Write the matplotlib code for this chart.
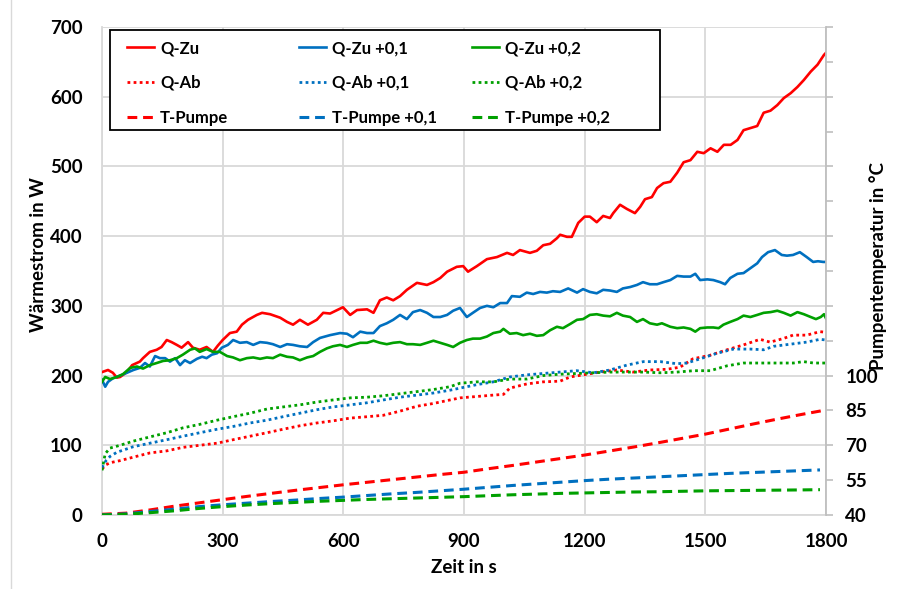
import matplotlib
matplotlib.use("Agg")
import matplotlib.pyplot as plt
from matplotlib.patches import Rectangle
from matplotlib.lines import Line2D

plt.rcParams['font.family'] = ['Lato', 'DejaVu Sans']
plt.rcParams['font.weight'] = 'bold'

# ---------------- data ----------------
# Q-Zu (red, solid) in W
t_qzu = [0, 15, 27, 37, 45, 62, 75, 94, 102, 119, 136, 148, 161, 173, 186, 198, 214, 226, 243, 260,
         276, 288, 300, 318, 335, 348, 363, 385, 398, 418, 443, 460, 475, 492, 512, 534, 550, 567, 599,
         617, 634, 659, 675, 691, 708, 724, 741, 758, 783, 808, 824, 841, 858, 882, 898, 910, 932, 957,
         982, 1007, 1022, 1039, 1064, 1081, 1097, 1114, 1131, 1139, 1156, 1168, 1176, 1184, 1200, 1213,
         1230, 1246, 1263, 1271, 1288, 1305, 1325, 1338, 1350, 1367, 1380, 1396, 1413, 1430, 1446, 1463,
         1480, 1496, 1513, 1530, 1546, 1563, 1580, 1595, 1612, 1629, 1645, 1662, 1679, 1695, 1712, 1729,
         1745, 1762, 1779, 1795, 1800]
q_zu = [205, 208, 204, 197, 198, 205, 215, 220, 225, 234, 237, 241, 251, 248, 244, 240, 248, 240, 237, 241,
        234, 243, 251, 261, 263, 273, 280, 287, 290, 288, 283, 277, 273, 280, 273, 280, 290, 289, 298,
        287, 294, 295, 290, 308, 312, 308, 314, 323, 333, 330, 334, 340, 349, 356, 357, 349, 357, 367,
        370, 376, 373, 380, 376, 379, 387, 389, 397, 402, 399, 399, 409, 419, 428, 428,
        420, 429, 426, 433, 445, 439, 433, 442, 453, 456, 469, 476, 478, 491, 506, 509,
        521, 519, 526, 521, 531, 531, 538, 552, 555, 558, 577, 580, 588, 598, 605, 614,
        624, 636, 646, 660, 663]

# Q-Zu +0,1 (blue, solid)
t_qzu1 = [0, 8, 15, 27, 45, 62, 78, 94, 107, 119, 132, 144, 157, 169, 182, 194, 206, 219, 236, 249, 260,
          273, 286, 298, 313, 326, 343, 360, 376, 393, 410, 425, 443, 460, 475, 492, 510, 525, 542, 567,
          592, 609, 624, 642, 659, 675, 691, 708, 724, 741, 758, 773, 791, 808, 824, 841, 858, 873, 890,
          907, 922, 940, 957, 973, 990, 1007, 1019, 1039, 1056, 1072, 1089, 1106, 1121, 1139, 1159, 1181,
          1196, 1213, 1230, 1246, 1263, 1280, 1295, 1313, 1330, 1345, 1362, 1380, 1396, 1413, 1430, 1446,
          1463, 1475, 1487, 1505, 1520, 1537, 1549, 1562, 1580, 1595, 1612, 1629, 1641, 1656, 1673, 1690,
          1703, 1718, 1735, 1752, 1768, 1780, 1793, 1800]
q_zu1 = [194, 184, 191, 196, 200, 204, 208, 211, 218, 213, 228, 225, 225, 220, 225, 215, 222, 218, 224, 227, 225,
         230, 232, 240, 244, 251, 247, 248, 244, 248, 247, 245, 241, 245, 244, 242, 241, 248, 254, 258,
         261, 260, 255, 263, 261, 261, 271, 275, 280, 287, 281, 291, 294, 290, 284, 284, 287, 293, 297,
         284, 290, 297, 300, 298, 304, 304, 314, 313, 319, 317, 320, 319, 321, 320, 325, 319,
         324, 320, 318, 323, 322, 320, 325, 327, 330, 334, 331, 331, 334, 337, 343, 342,
         342, 346, 337, 338, 337, 334, 331, 340, 346, 347, 354, 361, 370, 377, 380, 373,
         372, 373, 377, 370, 363, 364, 363, 363]

# Q-Zu +0,2 (green, solid)
t_qzu2 = [0, 8, 20, 37, 52, 70, 87, 102, 119, 136, 152, 169, 186, 201, 219, 231, 243, 260, 276, 293, 311,
          326, 343, 360, 376, 393, 410, 425, 443, 460, 475, 492, 510, 525, 542, 559, 574, 592, 609, 624,
          642, 659, 675, 691, 708, 724, 741, 758, 773, 791, 808, 824, 841, 858, 873, 890, 907, 922, 940,
          957, 973, 990, 998, 1014, 1031, 1047, 1064, 1081, 1097, 1114, 1131, 1146, 1164, 1181, 1196, 1213,
          1230, 1246, 1263, 1280, 1295, 1313, 1330, 1345, 1362, 1380, 1392, 1413, 1430, 1446, 1463, 1475,
          1487, 1505, 1520, 1533, 1545, 1562, 1580, 1595, 1612, 1629, 1645, 1662, 1679, 1695, 1712, 1729,
          1745, 1762, 1775, 1787, 1795, 1800]
q_zu2 = [191, 198, 195, 198, 202, 211, 213, 210, 215, 218, 221, 222, 225, 230, 237, 239, 234, 238, 234, 234, 228,
         226, 222, 225, 226, 224, 226, 225, 230, 227, 226, 222, 226, 228, 234, 239, 242, 244, 241, 244,
         247, 247, 250, 247, 245, 247, 248, 245, 245, 244, 247, 250, 247, 244, 241, 247, 251, 253, 253,
         256, 261, 263, 267, 260, 261, 258, 260, 257, 258, 265, 270, 268, 274, 280, 281, 287,
         288, 286, 285, 290, 286, 284, 277, 281, 275, 273, 275, 270, 268, 269, 267, 263,
         268, 269, 269, 268, 273, 277, 281, 286, 284, 287, 290, 291, 293, 290, 286, 291,
         288, 284, 281, 284, 288, 282]

# Q-Ab (dotted) in W
t_qab = [0, 10, 20, 45, 78, 119, 161, 201, 243, 286, 326, 368, 410, 450, 492, 534, 574, 617, 659, 699,
         741, 783, 824, 865, 890, 932, 973, 998, 1014, 1056, 1097, 1139, 1164, 1196, 1238, 1280, 1320,
         1362, 1404, 1437, 1469, 1511, 1554, 1595, 1636, 1661, 1693, 1718, 1752, 1785, 1800]
q_ab = [66, 72, 75, 78, 83, 89, 92, 97, 100, 103, 108, 113, 118, 123, 128, 132, 135, 139, 141, 143,
        149, 156, 160, 165, 168, 170, 172, 173, 182, 188, 191, 192, 198, 201, 205, 208, 205,
        208, 209, 212, 224, 229, 237, 244, 252, 248, 253, 258, 258, 263, 262]

t_qab1 = [0, 10, 20, 37, 78, 119, 161, 201, 243, 286, 326, 368, 410, 450, 492, 534, 574, 617, 659, 699,
          741, 783, 824, 865, 890, 932, 973, 1014, 1056, 1097, 1139, 1180, 1222, 1263, 1305, 1346, 1388,
          1429, 1454, 1487, 1529, 1570, 1612, 1645, 1670, 1711, 1752, 1785, 1800]
q_ab1 = [68, 78, 84, 90, 98, 103, 108, 113, 118, 123, 127, 132, 136, 141, 146, 151, 155, 158, 161, 165,
         169, 172, 175, 179, 182, 187, 191, 198, 201, 203, 205, 207, 204, 208, 215, 220, 220,
         217, 218, 224, 232, 238, 238, 237, 242, 245, 248, 252, 251]

t_qab2 = [0, 8, 20, 45, 78, 119, 161, 201, 243, 286, 326, 368, 410, 450, 492, 534, 574, 617, 659, 699,
          741, 783, 824, 865, 890, 932, 973, 1014, 1056, 1097, 1139, 1180, 1222, 1263, 1305, 1346, 1388,
          1429, 1471, 1512, 1554, 1595, 1636, 1678, 1719, 1744, 1769, 1800]
q_ab2 = [64, 88, 96, 100, 106, 112, 118, 125, 130, 136, 141, 146, 152, 155, 158, 162, 165, 168, 169, 171,
         174, 177, 180, 184, 189, 191, 191, 195, 195, 200, 202, 203, 204, 205, 205, 205, 204,
         205, 207, 207, 214, 218, 218, 218, 218, 220, 218, 218]

# T-Pumpe (dashed) in degC, secondary axis
t_tp = [0, 60, 120, 180, 240, 300, 360, 420, 480, 540, 600, 660, 720, 780, 840, 900, 960, 1020, 1080,
        1140, 1200, 1260, 1320, 1380, 1440, 1500, 1560, 1620, 1680, 1740, 1800]
t_pumpe = [40.3, 40.8, 42.2, 43.8, 45.2, 46.6, 48.0, 49.3, 50.6, 51.8, 53.0, 54.1, 55.2, 56.3, 57.4, 58.4,
           59.9, 61.3, 62.8, 64.3, 65.8, 67.5, 69.2, 71.0, 72.9, 74.8, 77.0, 79.2, 81.3, 83.3, 85.2]

t_tp12 = [0, 60, 120, 180, 240, 300, 360, 420, 480, 540, 600, 660, 720, 780, 840, 900, 960, 1020, 1080,
          1140, 1200, 1260, 1320, 1380, 1440, 1500, 1560, 1620, 1680, 1740, 1785]
t_pumpe1 = [40.0, 40.5, 41.5, 42.5, 43.6, 44.4, 45.1, 45.8, 46.4, 47.1, 47.7, 48.4, 49.1, 49.7, 50.4, 51.1,
            51.9, 52.7, 53.4, 54.1, 54.8, 55.4, 55.9, 56.4, 56.9, 57.4, 57.9, 58.3, 58.7, 59.1, 59.4]
t_pumpe2 = [40.0, 40.3, 41.0, 41.8, 42.8, 43.6, 44.3, 44.9, 45.4, 45.9, 46.3, 46.7, 47.0, 47.3, 47.6, 47.9,
            48.3, 48.7, 49.0, 49.3, 49.5, 49.7, 49.9, 50.0, 50.2, 50.4, 50.5, 50.6, 50.7, 50.8, 50.9]

x_ticks = [0, 300, 600, 900, 1200, 1500, 1800]
y_ticks = [0, 100, 200, 300, 400, 500, 600, 700]
y2_labeled = [40, 55, 70, 85, 100]

RED = '#FF0000'
BLUE = '#0070C0'
GREEN = '#00A000'
GRID = '#D9D9D9'

# ---------------- figure ----------------
fig = plt.figure(figsize=(9.08, 5.89), dpi=100)
W, H = 908, 589
ax = fig.add_axes([102 / W, 1 - 515 / H, (826 - 102) / W, (515 - 27) / H])

fig.add_artist(Line2D([11 / W, 11 / W], [0, 1], color=GRID, lw=1.0, transform=fig.transFigure))

lw_s = 1.9
lw_dot = 2.0
lw_dash = 2.2
dot = (0, (1, 1.2))
dash = (0, (3.2, 1.9))
FS = 13.5

l_zu, = ax.plot(t_qzu, q_zu, color=RED, lw=lw_s, label='Q-Zu', zorder=3)
l_zu1, = ax.plot(t_qzu1, q_zu1, color=BLUE, lw=lw_s, label='Q-Zu +0,1', zorder=3)
l_zu2, = ax.plot(t_qzu2, q_zu2, color=GREEN, lw=lw_s, label='Q-Zu +0,2', zorder=3)
l_ab, = ax.plot(t_qab, q_ab, color=RED, lw=lw_dot, ls=dot, label='Q-Ab', zorder=3)
l_ab1, = ax.plot(t_qab1, q_ab1, color=BLUE, lw=lw_dot, ls=dot, label='Q-Ab +0,1', zorder=3)
l_ab2, = ax.plot(t_qab2, q_ab2, color=GREEN, lw=lw_dot, ls=dot, label='Q-Ab +0,2', zorder=3)

ax.set_xlim(0, 1800)
ax.set_ylim(0, 700)
ax.set_xticks(x_ticks)
ax.set_yticks(y_ticks)
ax.grid(True, color=GRID, lw=1.3)
ax.set_axisbelow(True)
for s in ['top', 'right']:
    ax.spines[s].set_visible(False)
for s in ['left', 'bottom']:
    ax.spines[s].set_color(GRID)
    ax.spines[s].set_linewidth(1.3)
ax.tick_params(axis='both', length=0, labelsize=FS, colors='black')
ax.tick_params(axis='y', pad=14)
ax.tick_params(axis='x', pad=13)
for lab in ax.get_xticklabels() + ax.get_yticklabels():
    lab.set_fontweight('bold')

ax.set_ylabel('Wärmestrom in W', fontsize=FS, fontweight='bold')
ax.yaxis.set_label_coords((47 - 102) / 724, (515 - 255) / 488)
ax.set_xlabel('Zeit in s', fontsize=FS, fontweight='bold')
ax.xaxis.set_label_coords(0.5, (515 - 559) / 488)

ax2 = ax.twinx()
ax2.set_ylim(40, 250)
l_tp, = ax2.plot(t_tp, t_pumpe, color=RED, lw=lw_dash, ls=dash, label='T-Pumpe', zorder=3)
l_tp1, = ax2.plot(t_tp12, t_pumpe1, color=BLUE, lw=lw_dash, ls=dash, label='T-Pumpe +0,1', zorder=3)
l_tp2, = ax2.plot(t_tp12, t_pumpe2, color=GREEN, lw=lw_dash, ls=dash, label='T-Pumpe +0,2', zorder=3)
ticks2 = list(range(40, 251, 15))
ax2.set_yticks(ticks2)
ax2.set_yticklabels([str(v) if v in y2_labeled else '' for v in ticks2])
for s in ['top', 'left', 'bottom']:
    ax2.spines[s].set_visible(False)
ax2.spines['right'].set_color('#BFBFBF')
ax2.spines['right'].set_linewidth(1.3)
ax2.tick_params(axis='y', length=5, width=1.2, color='#BFBFBF', labelcolor='black',
                labelsize=FS, pad=9, direction='out')
for lab in ax2.get_yticklabels():
    lab.set_fontweight('bold')
ax2.set_ylabel('Pumpentemperatur in °C', fontsize=FS, fontweight='bold')
ax2.yaxis.set_label_coords((869 - 102) / 724, (515 - 266) / 488)

# legend frame
ax2.add_patch(Rectangle(((110 - 102) / 724, (515 - 130) / 488), (660 - 110) / 724, 100 / 488,
                        transform=ax2.transAxes, facecolor='white', edgecolor='black', lw=1.3,
                        zorder=5, clip_on=False))
cols = [[l_zu, l_ab, l_tp], [l_zu1, l_ab1, l_tp1], [l_zu2, l_ab2, l_tp2]]
xs = [127, 299, 472]
legs = []
for hs, xp in zip(cols, xs):
    lg = ax2.legend(handles=hs, loc='upper left', bbox_to_anchor=((xp - 102) / 724, (515 - 40) / 488),
                    frameon=False, borderpad=0, borderaxespad=0, handlelength=1.62, handletextpad=0.36,
                    labelspacing=1.13, prop={'size': 12, 'weight': 'bold'})
    lg.set_zorder(6)
    legs.append(lg)
for lg in legs[:-1]:
    ax2.add_artist(lg)

fig.savefig('out.png', dpi=100)
